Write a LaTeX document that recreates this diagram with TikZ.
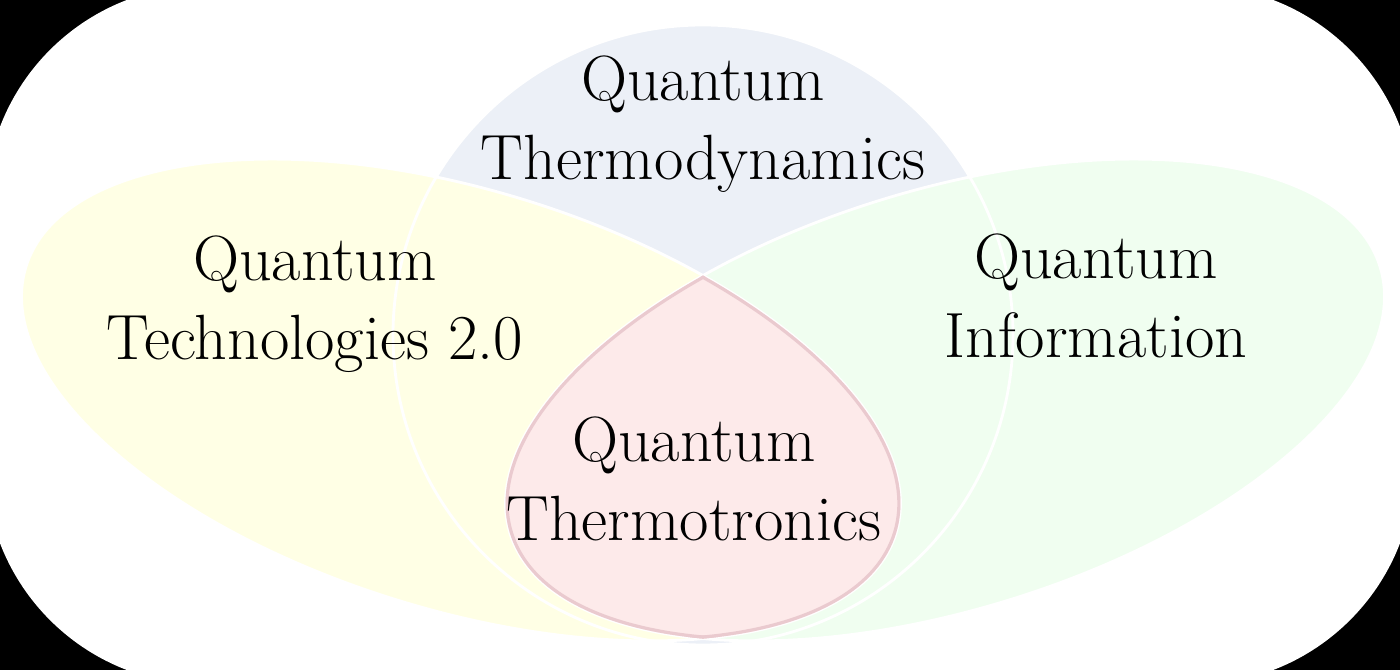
\documentclass[tikz,border=0pt]{standalone}
\usepackage{fontspec}
\usepackage{tikz}
\usetikzlibrary{positioning}

\definecolor{thermoblue}{RGB}{236,240,247}
\definecolor{techyellow}{RGB}{255,255,229}
\definecolor{infogreen}{RGB}{240,254,240}
\definecolor{tronicspink}{RGB}{253,234,234}
\definecolor{tronicsline}{RGB}{234,202,207}

\tikzset{
  techell/.style={shift={(4.61,2.70)}, rotate=-17},
  infoell/.style={shift={(9.45,2.70)}, rotate=17},
  thermoell/.style={shift={(7.03,3.35)}},
  rim/.style={draw=white, line width=0.8pt},
  label/.style={align=center, font=\fontsize{18.2}{22.5}\selectfont}
}

\begin{document}
\begin{tikzpicture}
        \useasboundingbox (0,0) rectangle (14,6.7);
        \clip (0,0) rectangle (14,6.7);

        % background and rounded card
        \fill[black] (0,0) rectangle (14,6.7);
        \fill[white, rounded corners=2.2cm] (-0.145,-0.145) rectangle (14.145,6.845);

        % the three sets
        \fill[thermoblue, thermoell] (0,0) circle[radius=3.10];
        \fill[techyellow, techell] (0,0) ellipse[x radius=4.55, y radius=2.10];
        \fill[infogreen, infoell] (0,0) ellipse[x radius=4.55, y radius=2.10];

        % thin white rims
        \draw[rim, thermoell] (0,0) circle[radius=3.10];
        \draw[rim, techell] (0,0) ellipse[x radius=4.55, y radius=2.10];
        \draw[rim, infoell] (0,0) ellipse[x radius=4.55, y radius=2.10];

        % common part of all three
        \begin{scope}
          \clip[techell] (0,0) ellipse[x radius=4.55, y radius=2.10];
          \clip[infoell] (0,0) ellipse[x radius=4.55, y radius=2.10];
          \clip[thermoell] (0,0) circle[radius=3.10];
          \fill[tronicspink] (0,0) rectangle (14,6.7);
          \draw[tronicsline, line width=1.8pt, techell] (0,0) ellipse[x radius=4.55, y radius=2.10];
          \draw[tronicsline, line width=1.8pt, infoell] (0,0) ellipse[x radius=4.55, y radius=2.10];
          \draw[tronicsline, line width=1.8pt, thermoell] (0,0) circle[radius=3.10];
        \end{scope}

        % labels
        \node[label] (thermo) at (7.03,5.46) {Quantum\\Thermodynamics};
        \node[label] (tech) at (3.15,3.66) {Quantum\\Technologies 2.0};
        \node[label] (info) at (10.96,3.74) {Quantum\\Information};
        \node[label] (tronics) at (6.94,1.91) {Quantum\\Thermotronics};

    \end{tikzpicture}
\end{document}
